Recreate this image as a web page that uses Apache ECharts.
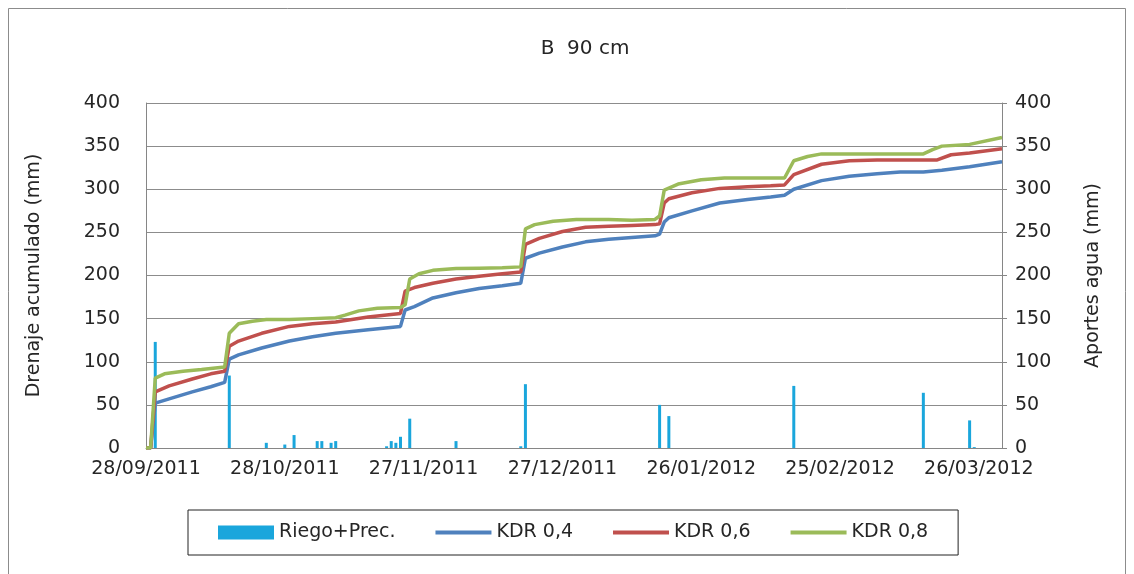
<!DOCTYPE html>
<html>
<head>
<meta charset="utf-8">
<script src="https://cdn.jsdelivr.net/npm/echarts@6/dist/echarts.min.js"></script>
<style>
  html, body { margin: 0; padding: 0; background: #fff; }
  #chart { width: 1134px; height: 574px; }
</style>
</head>
<body>
<div id="chart"></div>
<script>
// day 0 = 28/09/2011, one step per day
var dateLabels = ["28/09/2011", "28/10/2011", "27/11/2011", "27/12/2011", "26/01/2012", "25/02/2012", "26/03/2012"];

// Riego+Prec. (mm), [day, value]
var aportes = [
  [2, 123], [18, 84], [26, 6], [30, 4], [32, 15], [37, 8], [38, 8], [40, 6], [41, 8],
  [52, 2], [53, 8], [54, 6], [55, 13], [57, 34], [67, 8], [81, 2], [82, 74],
  [111, 50], [113, 37], [140, 72], [168, 64], [178, 32], [179, 1]
];

// drenaje acumulado (mm), [day, value]
var kdr04 = [
  [0, 0], [1, 0], [2, 52], [5, 57], [10, 65], [14, 71], [17, 76], [18, 103], [20, 108],
  [25, 116], [31, 124], [36, 129], [41, 133], [48, 137], [55, 141], [56, 160], [58, 164],
  [62, 174], [67, 180], [72, 185], [77, 188], [81, 191], [82, 220], [85, 226], [90, 233],
  [95, 239], [100, 242], [105, 244], [110, 246], [111, 248], [112, 262], [113, 267],
  [118, 275], [124, 284], [130, 288], [135, 291], [138, 293], [140, 300], [146, 310],
  [152, 315], [158, 318], [163, 320], [168, 320], [172, 322], [178, 326], [185, 332]
];
var kdr06 = [
  [0, 0], [1, 0], [2, 65], [5, 72], [10, 80], [14, 86], [17, 89], [18, 118], [20, 124],
  [25, 133], [31, 141], [36, 144], [41, 146], [48, 152], [55, 156], [56, 182], [58, 186],
  [62, 191], [67, 196], [72, 199], [77, 202], [81, 204], [82, 236], [85, 243], [90, 251],
  [95, 256], [100, 257], [105, 258], [110, 259], [111, 260], [112, 284], [113, 289],
  [118, 296], [124, 301], [130, 303], [135, 304], [138, 305], [140, 317], [146, 329],
  [152, 333], [158, 334], [163, 334], [168, 334], [171, 334], [174, 340], [178, 342], [185, 347]
];
var kdr08 = [
  [0, 0], [1, 0], [2, 81], [4, 86], [8, 89], [12, 91], [17, 94], [18, 133], [20, 144],
  [23, 147], [26, 149], [31, 149], [36, 150], [41, 151], [43, 154], [46, 159], [50, 162],
  [55, 163], [56, 166], [57, 196], [59, 202], [62, 206], [67, 208], [72, 208.5], [77, 209],
  [81, 210], [82, 254], [84, 259], [88, 263], [93, 265], [100, 265], [105, 264], [110, 265],
  [111, 269], [112, 299], [115, 306], [120, 311], [125, 313], [130, 313], [138, 313],
  [140, 333], [143, 338], [146, 341], [152, 341], [160, 341], [168, 341], [170, 346],
  [172, 350], [178, 352], [185, 360]
];

var font = "DejaVu Sans";
var txt = "#262626";

var myChart = echarts.init(document.getElementById("chart"), null, { renderer: "canvas" });

// legend entry for a line: just the stroke, no marker
function lineItem(name) {
  return { name: name, itemStyle: { opacity: 0 } };
}

var option = {
  animation: false,
  backgroundColor: "#fff",
  title: {
    text: "B  90 cm",
    left: 580,
    top: 34,
    textAlign: "center",
    textStyle: { fontFamily: font, fontSize: 20, fontWeight: "normal", color: txt }
  },
  graphic: [{
    type: "rect",
    shape: { x: 8.5, y: 8.5, width: 1117, height: 600 },
    style: { fill: "none", stroke: "#8c8c8c", lineWidth: 1 },
    silent: true
  }],
  legend: {
    left: 188,
    top: 510,
    padding: [13, 30, 13, 30],
    itemGap: 38,
    itemWidth: 56,
    itemHeight: 14,
    borderColor: "#222",
    borderWidth: 1,
    lineStyle: { width: 4 },
    textStyle: { fontFamily: font, fontSize: 19, color: txt },
    data: [
      { name: "Riego+Prec.", icon: "rect" },
      lineItem("KDR 0,4"), lineItem("KDR 0,6"), lineItem("KDR 0,8")
    ]
  },
  grid: { left: 146, right: 132, top: 103, bottom: 126 },
  xAxis: {
    type: "value",
    min: 0,
    max: 185,
    interval: 30,
    axisLine: { show: true, lineStyle: { color: "#868686" } },
    axisTick: { show: false },
    splitLine: { show: false },
    axisLabel: {
      margin: 12,
      showMaxLabel: false,
      fontFamily: font,
      fontSize: 19,
      color: txt,
      formatter: function (v) { return dateLabels[v / 30] || ""; }
    }
  },
  yAxis: [{
    type: "value",
    min: 0,
    max: 400,
    interval: 50,
    name: "Drenaje acumulado (mm)",
    nameLocation: "middle",
    nameRotate: 90,
    nameGap: 102,
    nameTextStyle: { fontFamily: font, fontSize: 19, color: txt },
    axisLine: { show: true, lineStyle: { color: "#868686" } },
    axisTick: { show: false },
    splitLine: { lineStyle: { color: "#8c8c8c", width: 1 } },
    axisLabel: { margin: 26, fontFamily: font, fontSize: 19, color: txt }
  }, {
    type: "value",
    min: 0,
    max: 400,
    interval: 50,
    position: "right",
    name: "Aportes agua (mm)",
    nameLocation: "middle",
    nameRotate: 90,
    nameGap: 82,
    nameTextStyle: { fontFamily: font, fontSize: 19, color: txt },
    axisLine: { show: true, lineStyle: { color: "#868686" } },
    axisTick: { show: true, length: 5, lineStyle: { color: "#868686" } },
    splitLine: { show: false },
    axisLabel: { margin: 13, fontFamily: font, fontSize: 19, color: txt }
  }],
  series: [{
    name: "Riego+Prec.",
    type: "bar",
    yAxisIndex: 1,
    barWidth: 3,
    itemStyle: { color: "#1aa6dc" },
    data: aportes
  }, {
    name: "KDR 0,4",
    type: "line",
    symbol: "none",
    lineStyle: { color: "#4f81bd", width: 3.5 },
    itemStyle: { color: "#4f81bd" },
    data: kdr04
  }, {
    name: "KDR 0,6",
    type: "line",
    symbol: "none",
    lineStyle: { color: "#c0504d", width: 3.5 },
    itemStyle: { color: "#c0504d" },
    data: kdr06
  }, {
    name: "KDR 0,8",
    type: "line",
    symbol: "none",
    lineStyle: { color: "#9bbb59", width: 3.5 },
    itemStyle: { color: "#9bbb59" },
    data: kdr08
  }]
};

myChart.setOption(option);
window.addEventListener("resize", myChart.resize);
</script>
</body>
</html>
